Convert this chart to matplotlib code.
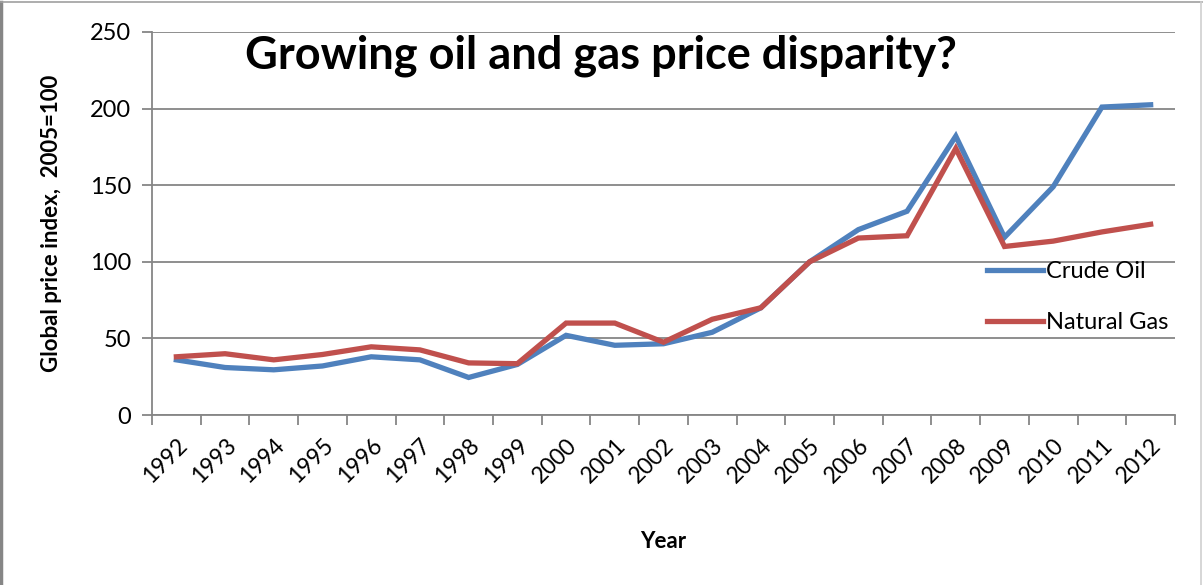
import matplotlib.pyplot as plt
from matplotlib.lines import Line2D

years = [str(y) for y in range(1992, 2013)]
crude_oil = [36, 31, 29.5, 32, 38, 36, 24.5, 33, 52, 45.5, 46.5, 54, 70,
             100, 121, 133, 182, 116, 149, 201, 202.5]
natural_gas = [38, 40, 36, 39.5, 44.5, 42.5, 34, 33.5, 60, 60, 47.5, 62.5, 70,
               100, 115.5, 117, 174, 110, 113.5, 119.5, 124.5]
y_ticks = [0, 50, 100, 150, 200, 250]

plt.rcParams['font.family'] = ['Lato', 'DejaVu Sans']

fig = plt.figure(figsize=(12.03, 5.85), dpi=100)
ax = fig.add_axes([152 / 1203, 1 - 415 / 585, (1175 - 152) / 1203, (415 - 32) / 585])

grid_c = '#868686'
x = list(range(len(years)))
ax.plot(x, crude_oil, color='#4F81BD', lw=3.8, label='Crude Oil', solid_joinstyle='miter')
ax.plot(x, natural_gas, color='#C0504D', lw=3.8, label='Natural Gas', solid_joinstyle='miter')

ax.set_xlim(-0.5, len(years) - 0.5)
ax.set_ylim(0, 250)
ax.set_yticks(y_ticks)
ax.set_yticklabels([str(v) for v in y_ticks], fontsize=17)
ax.yaxis.grid(True, color=grid_c, lw=1.3)
ax.set_axisbelow(True)

ax.set_xticks(x)
ax.set_xticklabels(years, rotation=45, ha='right', rotation_mode='anchor', fontsize=16.5)
ax.set_xticks([i - 0.5 for i in range(len(years) + 1)], minor=True)
ax.tick_params(axis='x', which='major', length=0, pad=14)
ax.tick_params(axis='x', which='minor', length=7, width=1.3, color=grid_c)
ax.tick_params(axis='y', length=7, width=1.3, color=grid_c, pad=8)

for s in ['top', 'right']:
    ax.spines[s].set_visible(False)
for s in ['left', 'bottom']:
    ax.spines[s].set_color(grid_c)
    ax.spines[s].set_linewidth(1.3)

ax.set_xlabel('Year', fontsize=16, fontweight='bold', labelpad=32)
ax.set_ylabel('Global price index,  2005=100', fontsize=16, fontweight='bold', labelpad=20)

fig.text(601 / 1203, 1 - 56 / 585, 'Growing oil and gas price disparity?',
         fontsize=32.5, fontweight='bold', ha='center', va='center')

ax.legend(loc='upper left', bbox_to_anchor=(966 / 1203, 1 - 240 / 585),
          bbox_transform=fig.transFigure, frameon=False, fontsize=17,
          handlelength=2.35, handletextpad=0.15, labelspacing=1.25)

fig.add_artist(Line2D([0.001, 0.001], [0, 0.997], transform=fig.transFigure, color='#868686', lw=2.5))
fig.add_artist(Line2D([0.001, 0.999], [0.997, 0.997], transform=fig.transFigure, color='#a0a0a0', lw=1.2))
fig.add_artist(Line2D([0.9985, 0.9985], [0, 0.997], transform=fig.transFigure, color='#d0d0d0', lw=1.2))

fig.savefig('out.png', dpi=100)
